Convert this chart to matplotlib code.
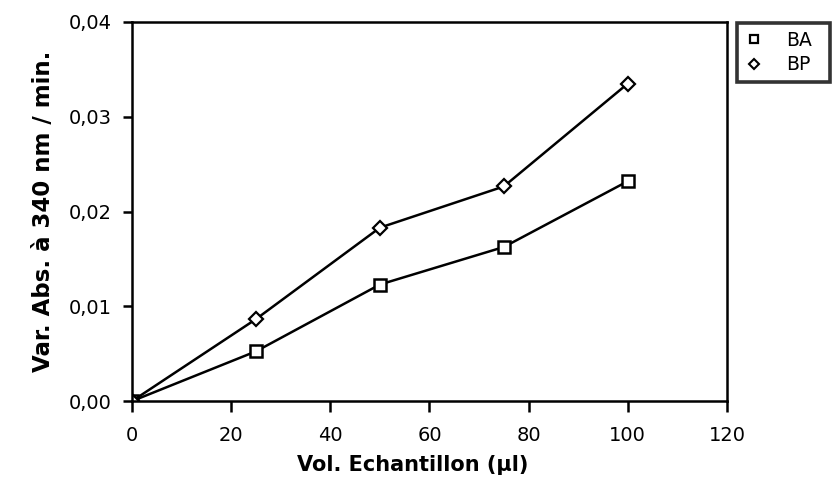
import matplotlib
matplotlib.use("Agg")
import matplotlib.pyplot as plt
from matplotlib.ticker import FuncFormatter
from matplotlib.lines import Line2D

volumes = [0, 25, 50, 75, 100]
ba = [0.0, 0.00525, 0.0123, 0.01626, 0.0232]
bp = [0.0, 0.00865, 0.0183, 0.02265, 0.0335]
x_ticks = [0, 20, 40, 60, 80, 100, 120]
y_ticks = [0.00, 0.01, 0.02, 0.03, 0.04]
series_names = ["BA", "BP"]

fig = plt.figure(figsize=(8.38, 4.88), dpi=100)
ax = fig.add_axes([0.1575, 0.178, 0.71, 0.777])

ax.plot(volumes, ba, color="black", lw=1.8, marker="s", ms=9, mfc="white",
        mec="black", mew=1.8)
ax.plot(volumes, bp, color="black", lw=1.8, marker="D", ms=7, mfc="white",
        mec="black", mew=1.6)

ax.set_xlim(0, 120)
ax.set_ylim(0, 0.04)
ax.set_xticks(x_ticks)
ax.set_yticks(y_ticks)
ax.yaxis.set_major_formatter(FuncFormatter(lambda v, p: f"{v:.2f}".replace(".", ",")))
ax.tick_params(axis="both", direction="out", width=1.8, labelsize=14)
ax.tick_params(axis="x", length=8, pad=10)
ax.tick_params(axis="y", length=6.5, pad=8)
for s in ax.spines.values():
    s.set_linewidth(1.8)

ax.set_xlabel("Vol. Echantillon (µl)", fontsize=15, fontweight="bold", labelpad=7, x=0.472)
ax.set_ylabel("Var. Abs. à 340 nm / min.", fontsize=16.5, fontweight="bold", labelpad=10)

handles = [
    Line2D([], [], linestyle="none", marker="s", ms=6, mfc="white", mec="black", mew=1.6),
    Line2D([], [], linestyle="none", marker="D", ms=5, mfc="white", mec="black", mew=1.5),
]
leg = ax.legend(handles, series_names, loc="upper left",
                bbox_to_anchor=(1.017, 0.997, 0.156, 0.0), mode="expand",
                borderaxespad=0, frameon=True, fancybox=False, edgecolor="black",
                fontsize=13.5, handlelength=1.0, handletextpad=1.2, borderpad=0.4,
                labelspacing=0.3)
leg.get_frame().set_linewidth(2.6)

fig.savefig("out.png", dpi=100)
